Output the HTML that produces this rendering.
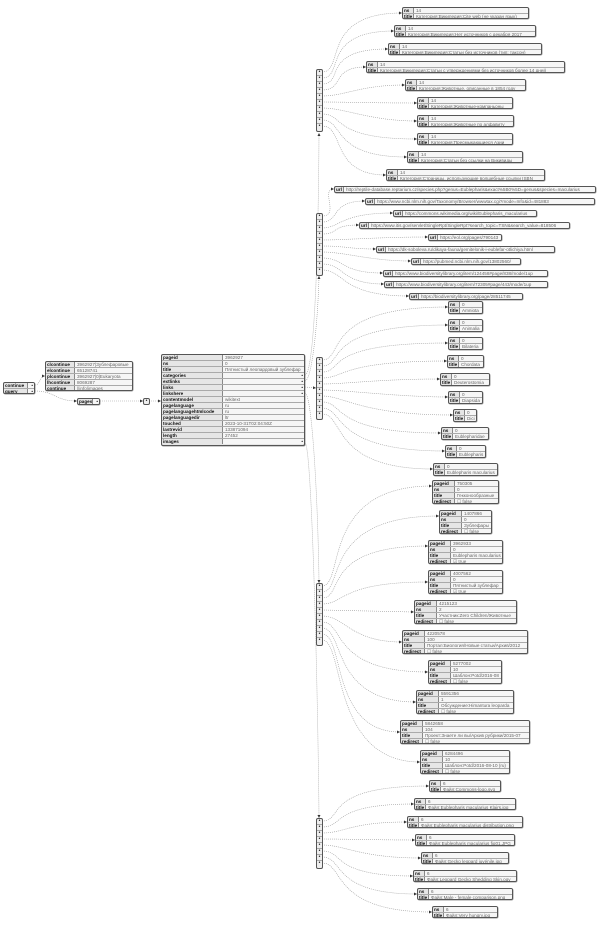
<!DOCTYPE html>
<html><head><meta charset="utf-8"><style>
body{margin:0;width:600px;height:929px;background:#fff;position:relative;overflow:hidden}
.t{position:absolute;box-sizing:border-box;border:1px solid #555;border-radius:2px;background:#e6e6e6;font:4.6px/5px "Liberation Sans","DejaVu Sans",sans-serif;color:#444;overflow:hidden;box-shadow:0.5px 0.5px 0 #999}
.r{display:flex;height:6px;box-sizing:border-box;border-top:1px solid #aaa}
.r:first-child{border-top:0;height:5px}
.k{font-weight:bold;color:#111;box-sizing:border-box;border-right:1px solid #888;padding-left:1px;flex:none;white-space:nowrap;overflow:hidden}
.v{padding-left:2px;white-space:nowrap;color:#666;flex:1;position:relative;background:#f6f6f6}
.d::after{content:"•";position:absolute;right:1px;top:0;color:#222}
.a{position:absolute;box-sizing:border-box;border:1px solid #555;border-radius:2px;background:#eee;width:7px;font:5px/5px "Liberation Sans",sans-serif;text-align:center;color:#222}
.a div{height:6px;box-sizing:border-box;border-top:1px solid #aaa;line-height:5px}
.a div:first-child{border-top:0;height:5px}
.n1 .k{width:11px}.n2 .k{width:22px}
svg{position:absolute;left:0;top:0}
</style></head><body>
<svg width="600" height="929" viewBox="0 0 600 929">
<defs><marker id="m" markerWidth="4" markerHeight="4" refX="3" refY="2" orient="auto" markerUnits="userSpaceOnUse"><path d="M0,0.5 L3,2 L0,3.5z" fill="#333"/></marker></defs>
<g fill="none" stroke="#999" stroke-width="0.6" stroke-dasharray="1 1" marker-end="url(#m)">
<path d="M35 385 C40 385,40 376,45 376"/>
<path d="M35 391 C55 391,55 401,77 401"/>
<path d="M100 401 L143 401"/>
<path d="M149 401 L161 401"/>
<path d="M305 375 C312 375,318 300,319 133"/>
<path d="M305 381 C312 381,318 320,319 276"/>
<path d="M305 387 L316 388"/>
<path d="M305 393 C312 393,318 500,319 583"/>
<path d="M305 443 C312 443,318 700,319 818"/>
<path d="M322 72 C345 72,320 13,402 13"/>
<path d="M322 78 C345 78,320 31,394 31"/>
<path d="M322 84 C345 84,320 49,388 49"/>
<path d="M322 90 C345 90,330 67,366 67"/>
<path d="M322 96 C345 96,360 85,405 85"/>
<path d="M322 102 C345 102,370 103,417 103"/>
<path d="M322 108 C345 108,370 121,417 121"/>
<path d="M322 114 C345 114,330 139,417 139"/>
<path d="M322 120 C345 120,330 157,407 157"/>
<path d="M322 126 C345 126,330 175,386 175"/>
<path d="M322 216 C340 216,320 189,334 189"/>
<path d="M322 222 C340 222,330 201,365 201"/>
<path d="M322 228 C340 228,340 213,393 213"/>
<path d="M322 234 C340 234,330 225,359 225"/>
<path d="M322 240 C345 240,380 237,428 237"/>
<path d="M322 246 C345 246,350 249,376 249"/>
<path d="M322 252 C345 252,370 261,411 261"/>
<path d="M322 258 C345 258,340 273,383 273"/>
<path d="M322 264 C345 264,340 284,384 284"/>
<path d="M322 270 C345 270,340 296,409 296"/>
<path d="M322 360 C345 360,320 307,448 307"/>
<path d="M322 366 C345 366,320 325,448 325"/>
<path d="M322 372 C345 372,320 343,448 343"/>
<path d="M322 378 C345 378,340 361,447 361"/>
<path d="M322 384 C345 384,380 379,440 379"/>
<path d="M322 390 C345 390,400 397,448 397"/>
<path d="M322 396 C345 396,360 415,453 415"/>
<path d="M322 402 C345 402,330 433,441 433"/>
<path d="M322 408 C345 408,330 451,445 451"/>
<path d="M322 414 C345 414,330 469,433 469"/>
<path d="M322 586 C345 586,320 486,432 486"/>
<path d="M322 592 C345 592,320 516,439 516"/>
<path d="M322 598 C345 598,320 546,428 546"/>
<path d="M322 604 C345 604,340 582,428 582"/>
<path d="M322 610 L414 612"/>
<path d="M322 616 C345 616,350 642,402 642"/>
<path d="M322 622 C345 622,330 672,428 672"/>
<path d="M322 628 C345 628,330 702,416 702"/>
<path d="M322 634 C345 634,330 732,400 732"/>
<path d="M322 640 C345 640,330 762,420 762"/>
<path d="M322 821 C345 821,320 786,429 786"/>
<path d="M322 827 C345 827,330 804,414 804"/>
<path d="M322 833 C345 833,350 822,407 822"/>
<path d="M322 839 C345 839,380 840,415 840"/>
<path d="M322 845 C345 845,360 858,421 858"/>
<path d="M322 851 C345 851,330 876,413 876"/>
<path d="M322 857 C345 857,330 894,417 894"/>
<path d="M322 863 C345 863,330 912,432 912"/>
</g>
</svg>

<div class="t" style="left:3px;top:382px;width:32px;height:12px"><div class="r"><div class="k" style="width:24px">continue</div><div class="v d"></div></div><div class="r"><div class="k" style="width:24px">query</div><div class="v d"></div></div></div>
<div class="t" style="left:45px;top:361px;width:88px;height:30px"><div class="r"><div class="k" style="width:29px">clcontinue</div><div class="v">3962927|Зублефаровые</div></div><div class="r"><div class="k" style="width:29px">elcontinue</div><div class="v">65128741</div></div><div class="r"><div class="k" style="width:29px">plcontinue</div><div class="v">3962927|0|Eukaryota</div></div><div class="r"><div class="k" style="width:29px">lhcontinue</div><div class="v">8069287</div></div><div class="r"><div class="k" style="width:29px">continue</div><div class="v">||info|images</div></div></div>
<div class="t" style="left:77px;top:398px;width:23px;height:7px"><div class="r"><div class="k" style="width:15px">pages</div><div class="v d"></div></div></div>
<div class="a" style="left:143px;top:398px;height:7px"><div>•</div></div>

<div class="t" style="left:161px;top:354px;width:144px;height:92px">
<div class="r"><div class="k" style="width:61px">pageid</div><div class="v">3962927</div></div>
<div class="r"><div class="k" style="width:61px">ns</div><div class="v">0</div></div>
<div class="r"><div class="k" style="width:61px">title</div><div class="v">Пятнистый леопардовый зублефар</div></div>
<div class="r"><div class="k" style="width:61px">categories</div><div class="v d"></div></div>
<div class="r"><div class="k" style="width:61px">extlinks</div><div class="v d"></div></div>
<div class="r"><div class="k" style="width:61px">links</div><div class="v d"></div></div>
<div class="r"><div class="k" style="width:61px">linkshere</div><div class="v d"></div></div>
<div class="r"><div class="k" style="width:61px">contentmodel</div><div class="v">wikitext</div></div>
<div class="r"><div class="k" style="width:61px">pagelanguage</div><div class="v">ru</div></div>
<div class="r"><div class="k" style="width:61px">pagelanguagehtmlcode</div><div class="v">ru</div></div>
<div class="r"><div class="k" style="width:61px">pagelanguagedir</div><div class="v">ltr</div></div>
<div class="r"><div class="k" style="width:61px">touched</div><div class="v">2023-10-31T02:04:50Z</div></div>
<div class="r"><div class="k" style="width:61px">lastrevid</div><div class="v">133871094</div></div>
<div class="r"><div class="k" style="width:61px">length</div><div class="v">27452</div></div>
<div class="r"><div class="k" style="width:61px">images</div><div class="v d"></div></div>
</div>

<div class="a" style="left:316px;top:69px;height:63px"><div>•</div><div>•</div><div>•</div><div>•</div><div>•</div><div>•</div><div>•</div><div>•</div><div>•</div><div>•</div></div>
<div class="a" style="left:316px;top:213px;height:63px"><div>•</div><div>•</div><div>•</div><div>•</div><div>•</div><div>•</div><div>•</div><div>•</div><div>•</div><div>•</div></div>
<div class="a" style="left:316px;top:357px;height:63px"><div>•</div><div>•</div><div>•</div><div>•</div><div>•</div><div>•</div><div>•</div><div>•</div><div>•</div><div>•</div></div>
<div class="a" style="left:316px;top:583px;height:63px"><div>•</div><div>•</div><div>•</div><div>•</div><div>•</div><div>•</div><div>•</div><div>•</div><div>•</div><div>•</div></div>
<div class="a" style="left:316px;top:818px;height:51px"><div>•</div><div>•</div><div>•</div><div>•</div><div>•</div><div>•</div><div>•</div><div>•</div></div>

<div class="t n1" style="left:402px;top:7px;width:127px;height:12px"><div class="r"><div class="k">ns</div><div class="v">14</div></div><div class="r"><div class="k">title</div><div class="v">Категория:Википедия:Cite web (не указан язык)</div></div></div>
<div class="t n1" style="left:394px;top:25px;width:142px;height:12px"><div class="r"><div class="k">ns</div><div class="v">14</div></div><div class="r"><div class="k">title</div><div class="v">Категория:Википедия:Нет источников с декабря 2017</div></div></div>
<div class="t n1" style="left:388px;top:43px;width:154px;height:12px"><div class="r"><div class="k">ns</div><div class="v">14</div></div><div class="r"><div class="k">title</div><div class="v">Категория:Википедия:Статьи без источников (тип: таксон)</div></div></div>
<div class="t n1" style="left:366px;top:61px;width:199px;height:12px"><div class="r"><div class="k">ns</div><div class="v">14</div></div><div class="r"><div class="k">title</div><div class="v">Категория:Википедия:Статьи с утверждениями без источников более 14 дней</div></div></div>
<div class="t n1" style="left:405px;top:79px;width:121px;height:12px"><div class="r"><div class="k">ns</div><div class="v">14</div></div><div class="r"><div class="k">title</div><div class="v">Категория:Животные, описанные в 1854 году</div></div></div>
<div class="t n1" style="left:417px;top:97px;width:96px;height:12px"><div class="r"><div class="k">ns</div><div class="v">14</div></div><div class="r"><div class="k">title</div><div class="v">Категория:Животные-компаньоны</div></div></div>
<div class="t n1" style="left:417px;top:115px;width:97px;height:12px"><div class="r"><div class="k">ns</div><div class="v">14</div></div><div class="r"><div class="k">title</div><div class="v">Категория:Животные по алфавиту</div></div></div>
<div class="t n1" style="left:417px;top:133px;width:96px;height:12px"><div class="r"><div class="k">ns</div><div class="v">14</div></div><div class="r"><div class="k">title</div><div class="v">Категория:Пресмыкающиеся Азии</div></div></div>
<div class="t n1" style="left:407px;top:151px;width:116px;height:12px"><div class="r"><div class="k">ns</div><div class="v">14</div></div><div class="r"><div class="k">title</div><div class="v">Категория:Статьи без ссылки на Викивиды</div></div></div>
<div class="t n1" style="left:386px;top:169px;width:159px;height:12px"><div class="r"><div class="k">ns</div><div class="v">14</div></div><div class="r"><div class="k">title</div><div class="v">Категория:Страницы, использующие волшебные ссылки ISBN</div></div></div>

<div class="t" style="left:334px;top:186px;width:262px;height:7px"><div class="r"><div class="k" style="width:9px">url</div><div class="v">http://reptile-database.reptarium.cz/species.php?genus=Eublepharis&amp;exact%5B0%5D=genus&amp;species=macularius</div></div></div>
<div class="t" style="left:365px;top:198px;width:230px;height:7px"><div class="r"><div class="k" style="width:9px">url</div><div class="v">https://www.ncbi.nlm.nih.gov/Taxonomy/Browser/wwwtax.cgi?mode=Info&amp;id=481883</div></div></div>
<div class="t" style="left:393px;top:210px;width:144px;height:7px"><div class="r"><div class="k" style="width:9px">url</div><div class="v">https://commons.wikimedia.org/wiki/Eublepharis_macularius</div></div></div>
<div class="t" style="left:359px;top:222px;width:211px;height:7px"><div class="r"><div class="k" style="width:9px">url</div><div class="v">https://www.itis.gov/servlet/SingleRpt/SingleRpt?search_topic=TSN&amp;search_value=818506</div></div></div>
<div class="t" style="left:428px;top:234px;width:74px;height:7px"><div class="r"><div class="k" style="width:9px">url</div><div class="v">https://eol.org/pages/790143</div></div></div>
<div class="t" style="left:376px;top:246px;width:179px;height:7px"><div class="r"><div class="k" style="width:9px">url</div><div class="v">https://dk-soboleva.ru/dikaya-fauna/gemitelonik-i-eublefar-otlichiya.html</div></div></div>
<div class="t" style="left:411px;top:258px;width:110px;height:7px"><div class="r"><div class="k" style="width:9px">url</div><div class="v">https://pubmed.ncbi.nlm.nih.gov/13802560/</div></div></div>
<div class="t" style="left:383px;top:270px;width:165px;height:7px"><div class="r"><div class="k" style="width:9px">url</div><div class="v">https://www.biodiversitylibrary.org/item/124458#page/838/mode/1up</div></div></div>
<div class="t" style="left:384px;top:281px;width:164px;height:7px"><div class="r"><div class="k" style="width:9px">url</div><div class="v">https://www.biodiversitylibrary.org/item/72305#page/443/mode/1up</div></div></div>
<div class="t" style="left:409px;top:293px;width:114px;height:7px"><div class="r"><div class="k" style="width:9px">url</div><div class="v">https://biodiversitylibrary.org/page/28511745</div></div></div>

<div class="t n1" style="left:448px;top:301px;width:35px;height:13px"><div class="r"><div class="k">ns</div><div class="v">0</div></div><div class="r"><div class="k">title</div><div class="v">Amniota</div></div></div>
<div class="t n1" style="left:448px;top:319px;width:35px;height:13px"><div class="r"><div class="k">ns</div><div class="v">0</div></div><div class="r"><div class="k">title</div><div class="v">Animalia</div></div></div>
<div class="t n1" style="left:448px;top:337px;width:35px;height:13px"><div class="r"><div class="k">ns</div><div class="v">0</div></div><div class="r"><div class="k">title</div><div class="v">Bilateria</div></div></div>
<div class="t n1" style="left:447px;top:355px;width:37px;height:13px"><div class="r"><div class="k">ns</div><div class="v">0</div></div><div class="r"><div class="k">title</div><div class="v">Chordata</div></div></div>
<div class="t n1" style="left:440px;top:373px;width:50px;height:13px"><div class="r"><div class="k">ns</div><div class="v">0</div></div><div class="r"><div class="k">title</div><div class="v">Deuterostomia</div></div></div>
<div class="t n1" style="left:448px;top:391px;width:35px;height:13px"><div class="r"><div class="k">ns</div><div class="v">0</div></div><div class="r"><div class="k">title</div><div class="v">Diapsida</div></div></div>
<div class="t n1" style="left:453px;top:409px;width:24px;height:13px"><div class="r"><div class="k">ns</div><div class="v">0</div></div><div class="r"><div class="k">title</div><div class="v">Dici</div></div></div>
<div class="t n1" style="left:441px;top:427px;width:48px;height:13px"><div class="r"><div class="k">ns</div><div class="v">0</div></div><div class="r"><div class="k">title</div><div class="v">Eublepharidae</div></div></div>
<div class="t n1" style="left:445px;top:445px;width:41px;height:13px"><div class="r"><div class="k">ns</div><div class="v">0</div></div><div class="r"><div class="k">title</div><div class="v">Eublepharis</div></div></div>
<div class="t n1" style="left:433px;top:463px;width:65px;height:13px"><div class="r"><div class="k">ns</div><div class="v">0</div></div><div class="r"><div class="k">title</div><div class="v">Eublepharis macularius</div></div></div>

<div class="t n2" style="left:432px;top:480px;width:67px;height:24px"><div class="r"><div class="k">pageid</div><div class="v">750305</div></div><div class="r"><div class="k">ns</div><div class="v">0</div></div><div class="r"><div class="k">title</div><div class="v">Гекконообразные</div></div><div class="r"><div class="k">redirect</div><div class="v">☐ false</div></div></div>
<div class="t n2" style="left:439px;top:510px;width:53px;height:24px"><div class="r"><div class="k">pageid</div><div class="v">1407866</div></div><div class="r"><div class="k">ns</div><div class="v">0</div></div><div class="r"><div class="k">title</div><div class="v">Зублефары</div></div><div class="r"><div class="k">redirect</div><div class="v">☐ false</div></div></div>
<div class="t n2" style="left:428px;top:540px;width:75px;height:24px"><div class="r"><div class="k">pageid</div><div class="v">3962933</div></div><div class="r"><div class="k">ns</div><div class="v">0</div></div><div class="r"><div class="k">title</div><div class="v">Eublepharis macularius</div></div><div class="r"><div class="k">redirect</div><div class="v">☑ true</div></div></div>
<div class="t n2" style="left:428px;top:570px;width:75px;height:24px"><div class="r"><div class="k">pageid</div><div class="v">4007562</div></div><div class="r"><div class="k">ns</div><div class="v">0</div></div><div class="r"><div class="k">title</div><div class="v">Пятнистый зублефар</div></div><div class="r"><div class="k">redirect</div><div class="v">☑ true</div></div></div>
<div class="t n2" style="left:414px;top:600px;width:103px;height:24px"><div class="r"><div class="k">pageid</div><div class="v">4215123</div></div><div class="r"><div class="k">ns</div><div class="v">2</div></div><div class="r"><div class="k">title</div><div class="v">Участник:Zero Children/Животные</div></div><div class="r"><div class="k">redirect</div><div class="v">☐ false</div></div></div>
<div class="t n2" style="left:402px;top:630px;width:126px;height:24px"><div class="r"><div class="k">pageid</div><div class="v">4220578</div></div><div class="r"><div class="k">ns</div><div class="v">100</div></div><div class="r"><div class="k">title</div><div class="v">Портал:Биология/Новые статьи/Архив/2012</div></div><div class="r"><div class="k">redirect</div><div class="v">☐ false</div></div></div>
<div class="t n2" style="left:428px;top:660px;width:74px;height:24px"><div class="r"><div class="k">pageid</div><div class="v">5277002</div></div><div class="r"><div class="k">ns</div><div class="v">10</div></div><div class="r"><div class="k">title</div><div class="v">Шаблон:Potd/2016-08</div></div><div class="r"><div class="k">redirect</div><div class="v">☐ false</div></div></div>
<div class="t n2" style="left:416px;top:690px;width:98px;height:24px"><div class="r"><div class="k">pageid</div><div class="v">5591356</div></div><div class="r"><div class="k">ns</div><div class="v">1</div></div><div class="r"><div class="k">title</div><div class="v">Обсуждение:Himantura leoparda</div></div><div class="r"><div class="k">redirect</div><div class="v">☐ false</div></div></div>
<div class="t n2" style="left:400px;top:720px;width:130px;height:24px"><div class="r"><div class="k">pageid</div><div class="v">5842658</div></div><div class="r"><div class="k">ns</div><div class="v">104</div></div><div class="r"><div class="k">title</div><div class="v">Проект:Знаете ли вы/Архив рубрики/2015-07</div></div><div class="r"><div class="k">redirect</div><div class="v">☐ false</div></div></div>
<div class="t n2" style="left:420px;top:750px;width:90px;height:24px"><div class="r"><div class="k">pageid</div><div class="v">6284496</div></div><div class="r"><div class="k">ns</div><div class="v">10</div></div><div class="r"><div class="k">title</div><div class="v">Шаблон:Potd/2016-08-10 (ru)</div></div><div class="r"><div class="k">redirect</div><div class="v">☐ false</div></div></div>

<div class="t n1" style="left:429px;top:780px;width:72px;height:12px"><div class="r"><div class="k">ns</div><div class="v">6</div></div><div class="r"><div class="k">title</div><div class="v">Файл:Commons-logo.svg</div></div></div>
<div class="t n1" style="left:414px;top:798px;width:102px;height:12px"><div class="r"><div class="k">ns</div><div class="v">6</div></div><div class="r"><div class="k">title</div><div class="v">Файл:Eublepharis macularius Klairs.jpg</div></div></div>
<div class="t n1" style="left:407px;top:816px;width:116px;height:12px"><div class="r"><div class="k">ns</div><div class="v">6</div></div><div class="r"><div class="k">title</div><div class="v">Файл:Eublepharis macularius distribution.png</div></div></div>
<div class="t n1" style="left:415px;top:834px;width:100px;height:12px"><div class="r"><div class="k">ns</div><div class="v">6</div></div><div class="r"><div class="k">title</div><div class="v">Файл:Eublepharis macularius fig01.JPG</div></div></div>
<div class="t n1" style="left:421px;top:852px;width:88px;height:12px"><div class="r"><div class="k">ns</div><div class="v">6</div></div><div class="r"><div class="k">title</div><div class="v">Файл:Gecko leopard juvénile.jpg</div></div></div>
<div class="t n1" style="left:413px;top:870px;width:104px;height:12px"><div class="r"><div class="k">ns</div><div class="v">6</div></div><div class="r"><div class="k">title</div><div class="v">Файл:Leopard Gecko Shedding Skin.ogv</div></div></div>
<div class="t n1" style="left:417px;top:888px;width:96px;height:12px"><div class="r"><div class="k">ns</div><div class="v">6</div></div><div class="r"><div class="k">title</div><div class="v">Файл:Male - female comparison.png</div></div></div>
<div class="t n1" style="left:432px;top:906px;width:66px;height:12px"><div class="r"><div class="k">ns</div><div class="v">6</div></div><div class="r"><div class="k">title</div><div class="v">Файл:Very hungry.jpg</div></div></div>
</body></html>
